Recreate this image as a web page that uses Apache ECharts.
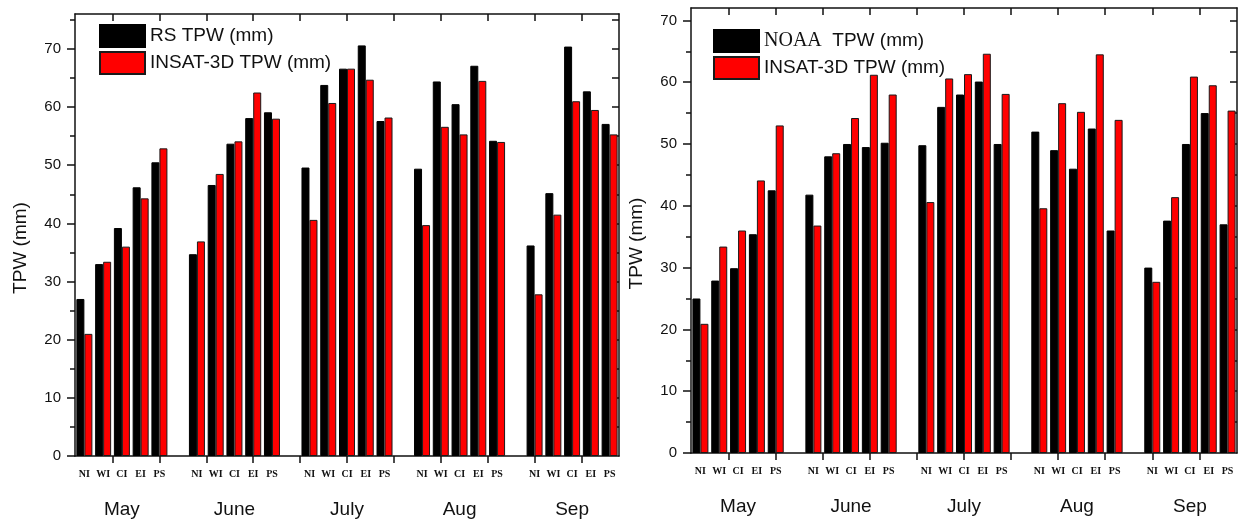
<!DOCTYPE html>
<html>
<head>
<meta charset="utf-8">
<script src="https://cdn.jsdelivr.net/npm/echarts@6/dist/echarts.min.js"></script>
<style>
  html, body { margin: 0; padding: 0; background: #fff; }
  #chart { width: 1243px; height: 521px; }
</style>
</head>
<body>
<div id="chart"></div>
<script>
const months = ['May', 'June', 'July', 'Aug', 'Sep'];
const regions = ['NI', 'WI', 'CI', 'EI', 'PS'];

// left panel: radiosonde vs INSAT-3D (5 values per month, NI..PS)
const rsTpw = [27.0, 33.0, 39.2, 46.2, 50.5,  34.7, 46.6, 53.7, 58.1, 59.1,  49.6, 63.8, 66.6, 70.6, 57.6,
               49.4, 64.4, 60.5, 67.1, 54.2,  36.2, 45.2, 70.4, 62.7, 57.1];
const insatVsRs = [21.0, 33.4, 36.0, 44.3, 52.9,  36.9, 48.5, 54.1, 62.5, 58.0,  40.6, 60.7, 66.6, 64.7, 58.2,
                   39.7, 56.6, 55.3, 64.5, 54.0,  27.8, 41.5, 61.0, 59.5, 55.3];

// right panel: NOAA vs INSAT-3D
const noaaTpw = [25.0, 27.9, 29.9, 35.4, 42.5,  41.8, 48.0, 50.0, 49.5, 50.2,  49.8, 56.0, 58.0, 60.1, 50.0,
                 52.0, 49.0, 46.0, 52.5, 36.0,  30.0, 37.6, 50.0, 55.0, 37.0];
const insatVsNoaa = [20.9, 33.4, 36.0, 44.1, 53.0,  36.8, 48.5, 54.2, 61.2, 58.0,  40.6, 60.6, 61.3, 64.6, 58.1,
                     39.6, 56.6, 55.2, 64.5, 53.9,  27.7, 41.4, 60.9, 59.5, 55.4];

// x tick marks (in slot units, slot 0 = May NI) and y tick values
const xTicks = [1.5, 4, 6.5, 9, 11.5, 14, 16.5, 19, 21.5, 24, 26.5];
const yMajor = [0, 10, 20, 30, 40, 50, 60, 70];
const yMinorLeft = [5, 15, 25, 35, 45, 55, 65, 75];
const yMinorRight = [5, 15, 25, 35, 45, 55, 65];

// one slot per region, empty slot between months
const slotKeys = [];
months.forEach(function (m, mi) {
  regions.forEach(function (r) { slotKeys.push(m + '-' + r); });
  if (mi < months.length - 1) slotKeys.push(m + '-gap');
});

function toSlots(values) {
  const out = [];
  let k = 0;
  slotKeys.forEach(function (key) {
    if (key.endsWith('-gap')) out.push('-');
    else out.push(values[k++]);
  });
  return out;
}

const ink = '#111';
const sans = 'Liberation Sans, Arial, sans-serif';
const serif = 'Liberation Serif, Times New Roman, serif';

const panels = [
  { grid: { left: 75, top: 14, width: 544, height: 442 }, max: 76, minor: yMinorLeft,
    black: 'RS TPW (mm)', blackData: rsTpw, redData: insatVsRs, legend: { left: 94, top: 19 } },
  { grid: { left: 691, top: 8, width: 546, height: 445 }, max: 72, minor: yMinorRight,
    black: 'NOAA  TPW (mm)', blackData: noaaTpw, redData: insatVsNoaa, legend: { left: 708, top: 24 } }
];
const redName = 'INSAT-3D TPW (mm)';

const grid = [], xAxis = [], yAxis = [], series = [], legend = [];

panels.forEach(function (p, i) {
  grid.push(Object.assign({ containLabel: false, outerBoundsMode: 'none' }, p.grid));
  const frame = { show: true, onZero: false, lineStyle: { color: ink, width: 1.5 } };
  const noLine = { show: false, onZero: false };

  xAxis.push({
    type: 'category', gridIndex: i, position: 'bottom', offset: 0, data: slotKeys,
    axisLine: frame, axisTick: { show: false },
    axisLabel: {
      interval: 0, margin: 13, color: ink, fontFamily: serif, fontWeight: 'bold', fontSize: 10,
      formatter: function (v) { const r = v.split('-')[1]; return r === 'gap' ? '' : r; }
    }
  });
  xAxis.push({
    type: 'category', gridIndex: i, position: 'bottom', offset: 0, data: slotKeys,
    axisLine: noLine, axisTick: { show: false },
    axisLabel: {
      interval: 0, margin: 44, color: ink, fontFamily: sans, fontSize: 19,
      formatter: function (v) { const s = v.split('-'); return s[1] === 'CI' ? s[0] : ''; }
    }
  });
  xAxis.push({
    type: 'value', gridIndex: i, position: 'bottom', offset: 0, min: -0.5, max: 28.5,
    axisLine: noLine, splitLine: { show: false }, axisLabel: { show: false },
    axisTick: { show: true, length: 7, customValues: xTicks, lineStyle: { color: ink, width: 1.5 } }
  });
  xAxis.push({
    type: 'value', gridIndex: i, position: 'top', offset: 0, min: -0.5, max: 28.5,
    axisLine: frame, splitLine: { show: false }, axisLabel: { show: false },
    axisTick: { show: true, inside: true, length: 7, customValues: xTicks, lineStyle: { color: ink, width: 1.5 } }
  });

  yAxis.push({
    type: 'value', gridIndex: i, position: 'left', offset: 0, min: 0, max: p.max,
    name: 'TPW (mm)', nameLocation: 'middle', nameGap: 45,
    nameTextStyle: { color: ink, fontFamily: sans, fontSize: 19, padding: [0, 26, 0, 0] },
    axisLine: frame, splitLine: { show: false },
    axisTick: { show: true, length: 8, customValues: yMajor, lineStyle: { color: ink, width: 1.5 } },
    axisLabel: { customValues: yMajor, margin: 14, color: ink, fontFamily: sans, fontSize: 15 }
  });
  yAxis.push({
    type: 'value', gridIndex: i, position: 'left', offset: 0, min: 0, max: p.max,
    axisLine: noLine, splitLine: { show: false }, axisLabel: { show: false },
    axisTick: { show: true, length: 5, customValues: p.minor, lineStyle: { color: ink, width: 1.5 } }
  });
  yAxis.push({
    type: 'value', gridIndex: i, position: 'right', offset: 0, min: 0, max: p.max,
    axisLine: frame, splitLine: { show: false }, axisLabel: { show: false },
    axisTick: { show: true, inside: true, length: 7, customValues: p.minor.concat(yMajor.slice(1)),
                lineStyle: { color: ink, width: 1.5 } }
  });

  const bar = { type: 'bar', xAxisIndex: i * 4, yAxisIndex: i * 3, barWidth: 8, barGap: '0%' };
  series.push(Object.assign({}, bar, {
    name: p.black, data: toSlots(p.blackData),
    itemStyle: { color: '#000', borderColor: '#000', borderWidth: 1 }
  }));
  series.push(Object.assign({}, bar, {
    name: redName, data: toSlots(p.redData),
    itemStyle: { color: '#ff0000', borderColor: '#1a1a1a', borderWidth: 1 }
  }));

  legend.push({
    left: p.legend.left, top: p.legend.top, orient: 'vertical',
    data: [p.black, redName], icon: 'rect',
    itemWidth: 45, itemHeight: 22, itemGap: 3,
    selectedMode: false,
    textStyle: {
      color: ink, fontFamily: sans, fontSize: 19,
      rich: { s: { fontFamily: serif, fontSize: 20, color: ink } }
    },
    formatter: function (name) {
      return name.indexOf('NOAA') === 0 ? '{s|NOAA}  TPW (mm)' : name;
    }
  });
});

const myChart = echarts.init(document.getElementById('chart'));
myChart.setOption({
  animation: false,
  grid: grid,
  xAxis: xAxis,
  yAxis: yAxis,
  legend: legend,
  series: series
});
</script>
</body>
</html>
